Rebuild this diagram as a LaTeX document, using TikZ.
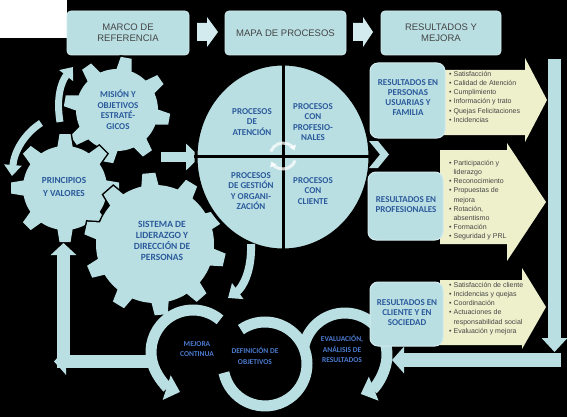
\documentclass[tikz,border=0pt]{standalone}
\usepackage{fontspec}
\setmainfont{Liberation Sans}
\newfontfamily\cbf{Carlito}
\usetikzlibrary{arrows.meta,calc}
\definecolor{cy}{HTML}{B9DFE3}
\definecolor{cyl}{HTML}{D3EBEE}
\definecolor{bl}{HTML}{2B5A9B}
\definecolor{bl2}{HTML}{4A7BD0}
\definecolor{tx}{HTML}{454545}
\definecolor{yl}{HTML}{EEF0CB}
\newcommand\drawgear[7]{%
 \begin{scope}[shift={(#1,#2)}]
  \foreach \k in {1,...,#5}{\draw[black,line width=3pt,rotate=#6+360/#5*\k] (#3-3,-#7) -- (#4,-#7+2.5) -- (#4,#7-2.5) -- (#3-3,#7) -- cycle;}
  \draw[black,line width=3pt] (0,0) circle[radius=#3pt];
  \foreach \k in {1,...,#5}{\fill[cy,rotate=#6+360/#5*\k] (#3-3,-#7) -- (#4,-#7+2.5) -- (#4,#7-2.5) -- (#3-3,#7) -- cycle;}
  \fill[cy] (0,0) circle[radius=#3pt];
 \end{scope}}
\begin{document}
\begin{tikzpicture}[x=1pt,y=-1pt,
  topbox/.style={fill=cy,draw=cyl,line width=0.8pt,rounded corners=4pt},
  toptxt/.style={font=\fontsize{9.5}{11}\selectfont,text=tx,align=center},
  gtxt/.style={font=\cbf\bfseries\fontsize{9}{10.5}\selectfont,text=bl,align=center,inner sep=0pt},
  rbox/.style={fill=cy,draw=cyl,line width=1pt,rounded corners=8pt},
  rtxt/.style={font=\cbf\bfseries\fontsize{9}{10}\selectfont,text=bl,align=center,inner sep=0pt},
  ltxt/.style={font=\fontsize{7}{9.2}\selectfont,text=tx,align=left,inner sep=0pt,anchor=north west},
  looptxt/.style={font=\cbf\bfseries\fontsize{7.5}{10.5}\selectfont,text=bl2,align=center,inner sep=0pt},
  band/.style={draw=cy,line width=7pt},
  ring/.style={draw=cy,line width=11pt},
  yarrow/.style={fill=yl}]
\fill[black] (0,0) rectangle (567,417);
\useasboundingbox (0,0) rectangle (567,417);
\fill[white] (0,0) rectangle (67,38);

% top row
\draw[topbox] (67,11) rectangle (189,55);
\node[toptxt] (marco) at (128,33) {MARCO DE\\REFERENCIA};
\fill[cyl] (197,23) -- (207,23) -- (207,17) -- (218,32) -- (207,47) -- (207,41) -- (197,41) -- cycle;
\draw[topbox] (225,11) rectangle (346,55);
\node[toptxt] (mapa) at (285.5,33) {MAPA DE PROCESOS};
\fill[cyl] (353,23) -- (363,23) -- (363,17) -- (373,32) -- (363,47) -- (363,41) -- (353,41) -- cycle;
\draw[topbox] (381,11) rectangle (501,55);
\node[toptxt] (resm) at (441,33) {RESULTADOS Y\\MEJORA};

% left curved arrows
\draw[band,-{Triangle[width=17pt,length=11pt]}] (60,122) .. controls (56,98) and (61,82) .. (73,67);
\draw[band,-{Triangle[width=17pt,length=11pt]}] (41,123) .. controls (24,134) and (14,152) .. (12,176);

% gears
\drawgear{117}{110}{41}{53}{8}{-100}{8}
\drawgear{65}{188}{42}{54}{8}{-90}{8}
\drawgear{155}{244}{59}{71}{10}{-85}{9}
\node[gtxt] (mision) at (118,110) {MISIÓN Y\\OBJETIVOS\\ESTRATÉ-\\GICOS};
\node[gtxt,font=\cbf\bfseries\fontsize{9.3}{13}\selectfont] (princ) at (64,187) {PRINCIPIOS\\Y VALORES};
\node[gtxt,font=\cbf\bfseries\fontsize{9.5}{10.8}\selectfont] (sist) at (162,241) {SISTEMA DE\\LIDERAZGO Y\\DIRECCIÓN DE\\PERSONAS};

% arrow into circle
\draw[cy,line width=10pt,-{Triangle[width=26pt,length=14pt]}] (161,157) -- (200,157);

% central circle
\draw[fill=cy,draw=black,line width=3pt] (283,157) ellipse[x radius=87pt,y radius=93pt];
\draw[black,line width=3pt] (283,60) -- (283,253);
\draw[black,line width=3pt] (194,156) -- (372,156);
\draw[white,opacity=0.75,line width=3pt,-{Triangle[width=7pt,length=5pt]}] ($(283,156)+(160:13pt)$) arc[start angle=160,end angle=25,radius=13pt];
\draw[white,opacity=0.75,line width=3pt,-{Triangle[width=7pt,length=5pt]}] ($(283,156)+(-20:13pt)$) arc[start angle=-20,end angle=-155,radius=13pt];
\node[gtxt] (pa) at (252,122) {PROCESOS\\DE\\ATENCIÓN};
\node[gtxt] (pp) at (313,122) {PROCESOS\\CON\\PROFESIO-\\NALES};
\node[gtxt] (pg) at (251,191) {PROCESOS\\DE GESTIÓN\\Y ORGANI-\\ZACIÓN};
\node[gtxt] (pc) at (313,191) {PROCESOS\\CON\\CLIENTE};

% chevron to results
\fill[cy] (369,141) -- (378,141) -- (389,154.5) -- (378,168) -- (369,168) -- (380,154.5) -- cycle;

% arrow from circle to loops
\draw[cy,line width=8pt,-{Triangle[width=19pt,length=12pt]}] (251,244) .. controls (252,272) and (242,288) .. (228,298);

% bottom loops
\coordinate (cL) at (193,352);
\coordinate (cM) at (265,364);
\coordinate (cR) at (345,355);
\draw[ring] ($(cM)+(125:42pt)$) arc[start angle=125,end angle=-168,radius=42pt];
\draw[ring,-{Triangle[width=25pt,length=14pt]}] ($(cL)+(50:42pt)$) arc[start angle=50,end angle=252,radius=42pt];
\draw[ring,-{Triangle[width=25pt,length=14pt]}] ($(cR)+(172:42pt)$) arc[start angle=172,end angle=-68,radius=42pt];
\node[looptxt] (mej) at (197,349) {MEJORA\\CONTINUA};
\node[looptxt] (def) at (255,356) {DEFINICIÓN DE\\OBJETIVOS};
\node[looptxt] (eva) at (342,349) {EVALUACIÓN,\\ANÁLISIS DE\\RESULTADOS};

% left L arrow
\draw[cy,line width=13pt,-{Triangle[width=25pt,length=12pt]}] (63.5,368) -- (63.5,243);
\draw[cy,line width=13pt,-{Triangle[width=26pt,length=12pt]}] (150,361.5) -- (54,361.5);

% right arrows
\draw[cy,line width=13pt,-{Triangle[width=25pt,length=14pt]}] (554.5,59) -- (554.5,352);
\draw[cy,line width=14pt,-{Triangle[width=26pt,length=12pt]}] (561,360) -- (392,360);

% yellow arrows
\fill[yarrow] (440,70) -- (525,70) -- (525,58) -- (547,100) -- (525,142) -- (525,135) -- (440,135) -- cycle;
\fill[yarrow] (440,150) -- (507,150) -- (507,143) -- (546,202) -- (507,261) -- (507,244) -- (440,244) -- cycle;
\fill[yarrow] (440,280) -- (522,280) -- (522,268) -- (546,307) -- (522,349) -- (522,345) -- (440,345) -- cycle;

% result boxes
\draw[rbox] (370,63) rectangle (445,138);
\node[rtxt] (r1) at (408,98) {RESULTADOS EN\\PERSONAS\\USUARIAS Y\\FAMILIA};
\draw[rbox] (368,172) rectangle (443,240);
\node[rtxt] (r2) at (406,205) {RESULTADOS EN\\PROFESIONALES};
\draw[rbox] (370,282) rectangle (443,346);
\node[rtxt] (r3) at (407,313) {RESULTADOS EN\\CLIENTE Y EN\\SOCIEDAD};

\node[ltxt] (l1) at (449,71) {\textbullet\ Satisfacción\\\textbullet\ Calidad de Atención\\\textbullet\ Cumplimiento\\\textbullet\ Información y trato\\\textbullet\ Quejas Felicitaciones\\\textbullet\ Incidencias};
\node[ltxt] (l2) at (449,160) {\textbullet\ Participación y\\\phantom{\textbullet\ }liderazgo\\\textbullet\ Reconocimiento\\\textbullet\ Propuestas de\\\phantom{\textbullet\ }mejora\\\textbullet\ Rotación,\\\phantom{\textbullet\ }absentismo\\\textbullet\ Formación\\\textbullet\ Seguridad y PRL};
\node[ltxt] (l3) at (449,282) {\textbullet\ Satisfacción de cliente\\\textbullet\ Incidencias y quejas\\\textbullet\ Coordinación\\\textbullet\ Actuaciones de\\\phantom{\textbullet\ }responsabilidad social\\\textbullet\ Evaluación y mejora};
\end{tikzpicture}
\end{document}
